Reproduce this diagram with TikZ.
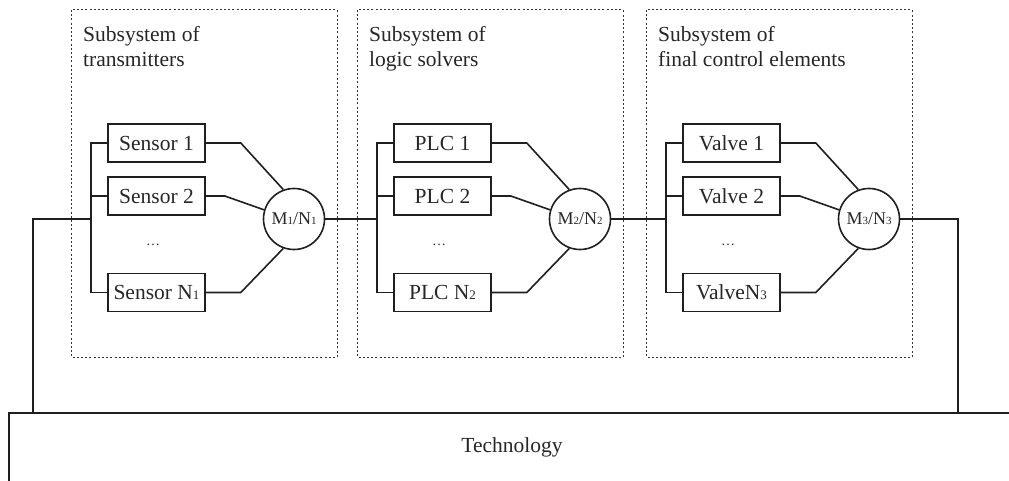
\documentclass[tikz,border=0pt]{standalone}
\usepackage{fontspec}
\setmainfont{Liberation Serif}
% small index digit sitting on the baseline
\newcommand\ixnum[2]{{\fontsize{#1}{#1}\selectfont #2}}
\begin{document}
\begin{tikzpicture}[x=1pt,y=-1pt,
  wire/.style={line width=1.6pt, draw=black!88, line join=miter},
  unit/.style={draw=black!88, line width=1.6pt, minimum width=97pt, minimum height=38pt,
    inner sep=0pt, text=black!85, font=\fontsize{21.5}{25}\selectfont},
  vote/.style={draw=black!88, circle, line width=1.6pt, minimum size=61pt, inner sep=0pt,
    text=black!85, font=\fontsize{18}{20}\selectfont},
  frame/.style={draw=black!80, line width=1pt, dash pattern=on 2pt off 2.2pt},
  heading/.style={anchor=north west, inner sep=0pt, align=left, text=black!85,
    font=\fontsize{21.5}{25}\selectfont},
  gap/.style={inner sep=0pt, text=black!85, font=\fontsize{14}{16}\selectfont}]
\useasboundingbox (0,0) rectangle (1009,481);
\clip (0,0) rectangle (1009,481);

% three redundant subsystems, each with a bus, three channels and a voter
\foreach \i/\B/\tb/\la/\lb/\ln in {
  1/91/transmitters/{Sensor 1}/{Sensor 2}/{Sensor N},
  2/377/logic solvers/{PLC 1}/{PLC 2}/{PLC N},
  3/666/final control elements/{Valve 1}/{Valve 2}/{ValveN}}{
  \draw[frame] (\B-20,10) rectangle (\B+246,357);
  \node[heading] (t\i) at (\B-8,26) {Subsystem of\\\tb};
  \node[unit] (u\i-1) at (\B+65.5,143) {\la};
  \node[unit] (u\i-2) at (\B+65.5,196) {\lb};
  \node[unit] (u\i-n) at (\B+65.5,292.5) {\ln\ixnum{13}{\i}};
  \node[gap] (d\i) at (\B+62,245) {\ldots};
  \node[vote] (v\i) at (\B+203,219) {M\ixnum{11}{\i}/N\ixnum{11}{\i}};
  \coordinate (bt\i) at (\B,143);
  \coordinate (bm\i) at (\B,196);
  \coordinate (bi\i) at (\B,219);
  \coordinate (bb\i) at (\B,292.5);
  % input bus
  \draw[wire] (u\i-1.west) -- (bt\i) -- (bb\i) -- (u\i-n.west);
  \draw[wire] (u\i-2.west) -- (bm\i);
  % channels into the voter
  \draw[wire] (u\i-1.east) -- ++(35,0) -- (v\i.110);
  \draw[wire] (u\i-2.east) -- ++(19,0) -- (v\i.163);
  \draw[wire] (u\i-n.east) -- ++(35,0) -- (v\i.-110);
}

% technology block along the bottom
\node[font=\fontsize{21.5}{25}\selectfont, text=black!85, inner sep=0pt] (tech) at (512,447) {Technology};
\draw[wire] (1020,413) -- (9,413) -- (9,495);
\coordinate (tl) at (33,413);
\coordinate (tr) at (958,413);

% signal chain between subsystems
\draw[wire] (tl) |- (bi1);
\draw[wire] (v1.east) -- (bi2);
\draw[wire] (v2.east) -- (bi3);
\draw[wire] (v3.east) -| (tr);
\end{tikzpicture}
\end{document}
